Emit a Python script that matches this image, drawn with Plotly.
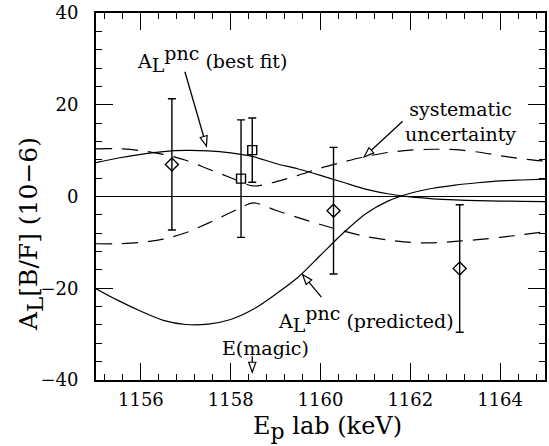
import math
import plotly.graph_objects as go

# ---------------- data ----------------
energy = [1155.0, 1155.5, 1156.0, 1156.5, 1157.0, 1157.5, 1158.0, 1158.5, 1159.0, 1159.5,
          1160.0, 1160.5, 1161.0, 1161.5, 1162.0, 1162.5, 1163.0, 1163.5, 1164.0, 1164.5, 1165.0]
best_fit = [7.4, 8.4, 9.2, 9.8, 10.05, 9.95, 9.5, 8.7, 7.2, 6.0,
            4.6, 3.1, 1.6, 0.6, -0.1, -0.5, -0.75, -0.9, -1.0, -1.05, -1.1]
predicted = [-20.1, -22.7, -25.0, -27.0, -27.9, -27.8, -26.8, -24.6, -21.3, -17.6,
             -12.8, -8.0, -3.8, -1.0, 0.7, 1.8, 2.5, 3.0, 3.4, 3.6, 3.8]
sys_upper = [10.4, 10.4, 10.0, 9.2, 7.9, 6.0, 4.1, 2.3, 3.2, 4.6,
             6.2, 7.5, 8.7, 9.6, 10.1, 10.3, 10.2, 9.7, 8.9, 8.2, 7.7]
sys_lower = [-10.3, -10.3, -10.0, -9.3, -7.9, -5.8, -3.5, -1.4, -3.0, -4.6,
             -6.1, -7.5, -8.7, -9.5, -10.0, -10.1, -9.8, -9.4, -8.9, -8.3, -7.7]

diamond_x = [1156.69, 1160.29, 1163.10]
diamond_y = [7.0, -3.1, -15.7]
diamond_err = [14.3, 13.8, 13.9]

square_x = [1158.23, 1158.48]
square_y = [3.9, 10.1]
square_err = [12.8, 7.0]

x_range = [1155, 1165]
y_range = [-40, 40]

# ---------------- layout constants ----------------
W, H = 549, 446
ML, MR, MT, MB = 96, 2, 11, 66
PW, PH = W - ML - MR, H - MT - MB
SX = PW / (x_range[1] - x_range[0])
SY = PH / (y_range[1] - y_range[0])
FONT = "DejaVu Serif"

fig = go.Figure()

line_style = dict(color="black", width=1.2, shape="spline", smoothing=0.8)
fig.add_trace(go.Scatter(x=energy, y=best_fit, mode="lines", line=line_style,
                         hoverinfo="skip", showlegend=False))
fig.add_trace(go.Scatter(x=energy, y=predicted, mode="lines", line=line_style,
                         hoverinfo="skip", showlegend=False))
dash_style = dict(color="black", width=1.2, dash="16px,10px", shape="spline", smoothing=0.8)
fig.add_trace(go.Scatter(x=energy, y=sys_upper, mode="lines", line=dash_style,
                         hoverinfo="skip", showlegend=False))
fig.add_trace(go.Scatter(x=energy, y=sys_lower, mode="lines", line=dash_style,
                         hoverinfo="skip", showlegend=False))

err_style = dict(type="data", color="black", thickness=1.4, width=4)
fig.add_trace(go.Scatter(
    x=diamond_x, y=diamond_y, mode="markers",
    marker=dict(symbol="diamond-open", size=10, color="black", line=dict(width=1.4)),
    error_y=dict(array=diamond_err, **err_style), showlegend=False))
fig.add_trace(go.Scatter(
    x=square_x, y=square_y, mode="markers",
    marker=dict(symbol="square-open", size=9, color="black", line=dict(width=1.4)),
    error_y=dict(array=square_err, **err_style), showlegend=False))

# ---------------- arrows with open heads ----------------
shapes = []


def add_arrow(x0, y0, x1, y1, head_len=10.0, head_half=3.6):
    dx = (x1 - x0) * SX
    dy = (y1 - y0) * SY
    L = math.hypot(dx, dy)
    ux, uy = dx / L, dy / L
    bx = x1 - ux * head_len / SX
    by = y1 - uy * head_len / SY
    px_, py_ = -uy, ux
    c1 = (bx + px_ * head_half / SX, by + py_ * head_half / SY)
    c2 = (bx - px_ * head_half / SX, by - py_ * head_half / SY)
    shapes.append(dict(type="line", xref="x", yref="y", x0=x0, y0=y0, x1=bx, y1=by,
                       line=dict(color="black", width=1.3)))
    shapes.append(dict(type="path", xref="x", yref="y",
                       path=f"M {x1},{y1} L {c1[0]},{c1[1]} L {c2[0]},{c2[1]} Z",
                       line=dict(color="black", width=1.2), fillcolor="white"))


add_arrow(1156.98, 27.2, 1157.46, 11.0)      # best fit
add_arrow(1161.83, 16.4, 1160.97, 8.6)       # systematic uncertainty
add_arrow(1160.02, -21.95, 1159.60, -17.0)   # predicted
add_arrow(1158.48, -34.8, 1158.48, -38.3)    # E(magic)

big = "font-size:19px"
annotations = [
    dict(x=1155.88, y=30.0, xanchor="left", yanchor="middle",
         text=f"A<sub><span style='{big}'>L</span></sub><sup><span style='{big}'>pnc</span></sup> (best fit)"),
    dict(x=1163.12, y=16.3, xanchor="center", yanchor="middle",
         text="systematic<br>uncertainty"),
    dict(x=1159.02, y=-26.6, xanchor="left", yanchor="middle",
         text=f"A<sub><span style='{big}'>L</span></sub><sup><span style='{big}'>pnc</span></sup> (predicted)"),
    dict(x=1158.78, y=-33.0, xanchor="center", yanchor="middle",
         text="E(magic)"),
]
for a in annotations:
    a["font"] = dict(family=FONT, size=19, color="black")
    a["xref"] = "x"
    a["yref"] = "y"
    a["showarrow"] = False
    a["borderpad"] = 0

# axis titles placed as paper annotations
annotations.append(dict(
    xref="paper", yref="paper", x=(329 - ML) / PW, y=1 - (428 - MT) / PH,
    xanchor="center", yanchor="middle", showarrow=False, borderpad=0,
    text="E<sub><span style='font-size:22px'>p</span></sub> lab (keV)",
    font=dict(family=FONT, size=24, color="black")))
annotations.append(dict(
    xref="paper", yref="paper", x=(31 - ML) / PW, y=1 - (233 - MT) / PH,
    xanchor="center", yanchor="middle", showarrow=False, borderpad=0, textangle=-90,
    text="A<sub><span style='font-size:23px'>L</span></sub>[B/F] (10−6)",
    font=dict(family=FONT, size=25, color="black")))

axis_common = dict(
    showline=True, linewidth=2, linecolor="black", mirror="ticks",
    ticks="inside", ticklen=17, tickwidth=1.2, tickcolor="black",
    showgrid=False,
    tickfont=dict(family=FONT, size=18, color="black"),
)

fig.update_layout(
    width=W, height=H,
    margin=dict(l=ML, r=MR, t=MT, b=MB),
    paper_bgcolor="white", plot_bgcolor="white",
    xaxis=dict(range=x_range, dtick=2, tick0=0, zeroline=False,
               minor=dict(dtick=0.4, ticks="inside", ticklen=6, tickwidth=1, tickcolor="black"),
               ticklabelstandoff=2,
               **axis_common),
    yaxis=dict(range=y_range, dtick=20, tick0=0,
               zeroline=True, zerolinecolor="black", zerolinewidth=1,
               minor=dict(dtick=4, ticks="inside", ticklen=6, tickwidth=1, tickcolor="black"),
               ticklabelstandoff=12,
               **axis_common),
    shapes=shapes,
    annotations=annotations,
)

fig.write_html("out.html")
